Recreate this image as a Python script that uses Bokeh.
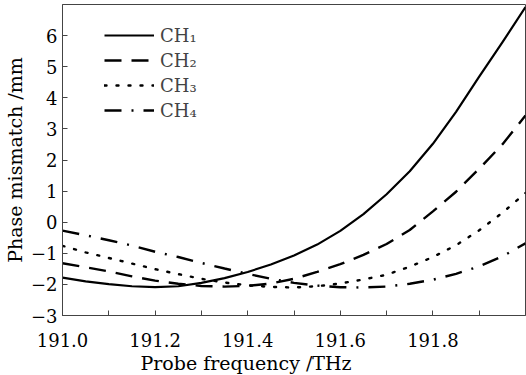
from bokeh.plotting import figure
from bokeh.models import (ColumnDataSource, Legend, LegendItem, Title, FixedTicker,
                          NumeralTickFormatter, Range1d)
from bokeh.embed import file_html
from bokeh.resources import INLINE

# ---- data ----
freq = [191.00, 191.05, 191.10, 191.15, 191.20, 191.25, 191.30, 191.35, 191.40, 191.45,
        191.50, 191.55, 191.60, 191.65, 191.70, 191.75, 191.80, 191.85, 191.90, 191.95, 192.00]
ch1 = [-1.78, -1.90, -1.99, -2.06, -2.09, -2.06, -1.95, -1.80, -1.60, -1.36,
       -1.07, -0.72, -0.28, 0.26, 0.90, 1.64, 2.52, 3.55, 4.68, 5.78, 6.92]
ch2 = [-1.32, -1.45, -1.58, -1.74, -1.88, -1.98, -2.05, -2.07, -2.05, -1.97,
       -1.82, -1.60, -1.35, -1.05, -0.70, -0.25, 0.35, 0.98, 1.72, 2.50, 3.43]
ch3 = [-0.76, -0.97, -1.15, -1.33, -1.51, -1.67, -1.82, -1.94, -2.03, -2.08,
       -2.10, -2.06, -1.97, -1.84, -1.69, -1.43, -1.12, -0.74, -0.26, 0.30, 0.94]
ch4 = [-0.27, -0.42, -0.58, -0.75, -0.95, -1.12, -1.31, -1.49, -1.66, -1.82,
       -1.95, -2.04, -2.09, -2.10, -2.07, -1.98, -1.85, -1.66, -1.42, -1.10, -0.68]
series_names = ["CH\u2081", "CH\u2082", "CH\u2083", "CH\u2084"]
x_ticks = [191.0, 191.2, 191.4, 191.6, 191.8]
x_minor = [191.1, 191.3, 191.5, 191.7, 191.9]
y_ticks = [-3, -2, -1, 0, 1, 2, 3, 4, 5, 6]
y_tick_labels = ["\u22123", "\u22122", "\u22121", "0", "1", "2", "3", "4", "5", "6"]
x_label = "Probe frequency /THz"
y_label = "Phase mismatch /mm"

FONT = "DejaVu Serif"
FS = "18px"
FS_LABEL = "19px"

p = figure(width=526, height=375, output_backend="svg", toolbar_location=None,
           x_range=Range1d(191.0, 192.0), y_range=Range1d(-3, 7),
           min_border_left=55, min_border_right=1, min_border_top=4, min_border_bottom=60)
p.grid.visible = False
p.outline_line_color = "#444444"
p.outline_line_width = 1
p.background_fill_color = "white"
p.border_fill_color = "white"

src = ColumnDataSource(dict(x=freq, c1=ch1, c2=ch2, c3=ch3, c4=ch4))
r1 = p.line("x", "c1", source=src, line_color="black", line_width=2.2, line_join="round")
r2 = p.line("x", "c2", source=src, line_color="black", line_width=2.4, line_dash="17 10")
r3 = p.line("x", "c3", source=src, line_color="black", line_width=2.4, line_dash="2 10",
            line_cap="round")
r4 = p.line("x", "c4", source=src, line_color="black", line_width=2.4, line_dash="17 10 2 10")

# axes
xa = p.xaxis[0]
xa.ticker = FixedTicker(ticks=x_ticks, minor_ticks=x_minor)
xa.formatter = NumeralTickFormatter(format="0.0")
ya = p.yaxis[0]
ya.ticker = FixedTicker(ticks=y_ticks)
ya.major_label_overrides = {t: l for t, l in zip(y_ticks, y_tick_labels)}
for ax in (xa, ya):
    ax.major_tick_in = 5
    ax.major_tick_out = 0
    ax.minor_tick_in = 5
    ax.minor_tick_out = 0
    ax.axis_line_color = "#444444"
    ax.major_tick_line_color = "#444444"
    ax.minor_tick_line_color = "#444444"
    ax.major_label_text_font = FONT
    ax.major_label_text_font_size = FS
    ax.major_label_text_color = "black"
    ax.axis_label_text_font = FONT
    ax.axis_label_text_font_size = FS_LABEL
    ax.axis_label_text_font_style = "normal"
    ax.axis_label_text_color = "black"
ya.minor_tick_line_color = None
xa.major_label_standoff = 17
ya.major_label_standoff = 5
ya.axis_label = y_label
ya.axis_label_standoff = 2

p.add_layout(Title(text=x_label, align="left", offset=78, standoff=0,
                   text_font=FONT, text_font_size=FS_LABEL, text_font_style="normal",
                   text_color="black"), "below")

legend = Legend(items=[LegendItem(label=n, renderers=[r]) for n, r in
                       zip(series_names, [r1, r2, r3, r4])],
                location=(42, 193), padding=0, margin=0, spacing=1,
                glyph_width=50, glyph_height=24, label_height=24,
                label_standoff=6, border_line_color=None, background_fill_alpha=0,
                label_text_font=FONT, label_text_font_size=FS)
p.add_layout(legend)

open("out.html", "w").write(file_html(p, INLINE))
